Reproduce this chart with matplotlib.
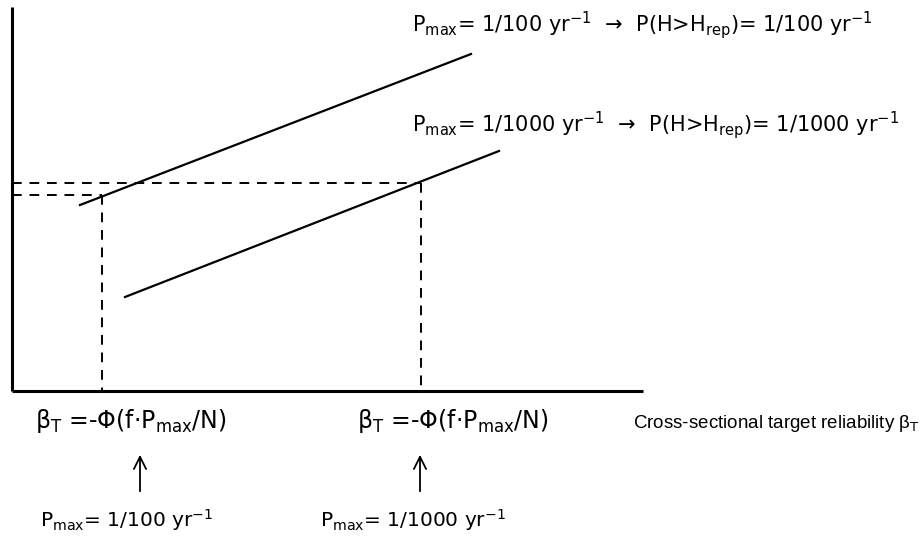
import matplotlib.pyplot as plt

plt.rcParams['mathtext.fontset'] = 'custom'
plt.rcParams['mathtext.rm'] = 'DejaVu Sans'
plt.rcParams['mathtext.it'] = 'DejaVu Sans'

# sketch coordinates (pixel-like units, y grows downwards)
axis_origin = (12, 391)
axis_ends = (643, 7)

line_100_x = [80, 471]
line_100_y = [205, 54]
line_1000_x = [125, 499]
line_1000_y = [297, 151]

# design points (where the dashed guides meet the lines)
beta_x = [102, 421]
beta_y = [195, 183]

top_labels = [r'P$_{\mathrm{max}}$= 1/100 yr$^{\mathrm{-1}}$  →  P(H>H$_{\mathrm{rep}}$)= 1/100 yr$^{\mathrm{-1}}$',
              r'P$_{\mathrm{max}}$= 1/1000 yr$^{\mathrm{-1}}$  →  P(H>H$_{\mathrm{rep}}$)= 1/1000 yr$^{\mathrm{-1}}$']
beta_labels = [r'β$_{\mathrm{T}}$ =-Φ(f·P$_{\mathrm{max}}$/N)',
               r'β$_{\mathrm{T}}$ =-Φ(f·P$_{\mathrm{max}}$/N)']
pmax_labels = [r'P$_{\mathrm{max}}$= 1/100 yr$^{\mathrm{-1}}$',
               r'P$_{\mathrm{max}}$= 1/1000 yr$^{\mathrm{-1}}$']
xaxis_label = r'Cross-sectional target reliability β$_{\mathrm{T}}$'

fig = plt.figure(figsize=(9.22, 5.37), dpi=100)
ax = fig.add_axes([0, 0, 1, 1])
ax.set_xlim(0, 922)
ax.set_ylim(537, 0)
ax.axis('off')

# axes of the sketch
ax.plot([axis_origin[0], axis_origin[0]], [axis_origin[1], axis_ends[1]], color='black', lw=2.2, solid_capstyle='butt')
ax.plot([axis_origin[0], axis_ends[0]], [axis_origin[1], axis_origin[1]], color='black', lw=2.2, solid_capstyle='butt')

# the two lines
ax.plot(line_100_x, line_100_y, color='black', lw=1.6)
ax.plot(line_1000_x, line_1000_y, color='black', lw=1.6)

# dashed guides
for bx, by in zip(beta_x, beta_y):
    ax.plot([axis_origin[0], bx], [by, by], color='black', lw=1.4, ls=(0, (5, 4)))
    ax.plot([bx, bx], [by, axis_origin[1]], color='black', lw=1.4, ls=(0, (5, 4)))

# labels
ax.text(412, 32, top_labels[0], fontsize=15, ha='left', va='baseline')
ax.text(412, 132, top_labels[1], fontsize=15, ha='left', va='baseline')

ax.text(35, 428, beta_labels[0], fontsize=17, ha='left', va='baseline')
ax.text(357, 428, beta_labels[1], fontsize=17, ha='left', va='baseline')
ax.text(633, 428, xaxis_label, fontsize=13.5, ha='left', va='baseline',
        family=['Liberation Sans', 'DejaVu Sans'])

for ax_x in [140, 420]:
    ax.annotate('', xy=(ax_x, 452), xytext=(ax_x, 494),
                arrowprops=dict(arrowstyle='->', lw=1.3, mutation_scale=22, color='black'))

ax.text(40, 527, pmax_labels[0], fontsize=14.5, ha='left', va='baseline')
ax.text(320, 527, pmax_labels[1], fontsize=14.5, ha='left', va='baseline')

fig.savefig('out.png', dpi=100)
